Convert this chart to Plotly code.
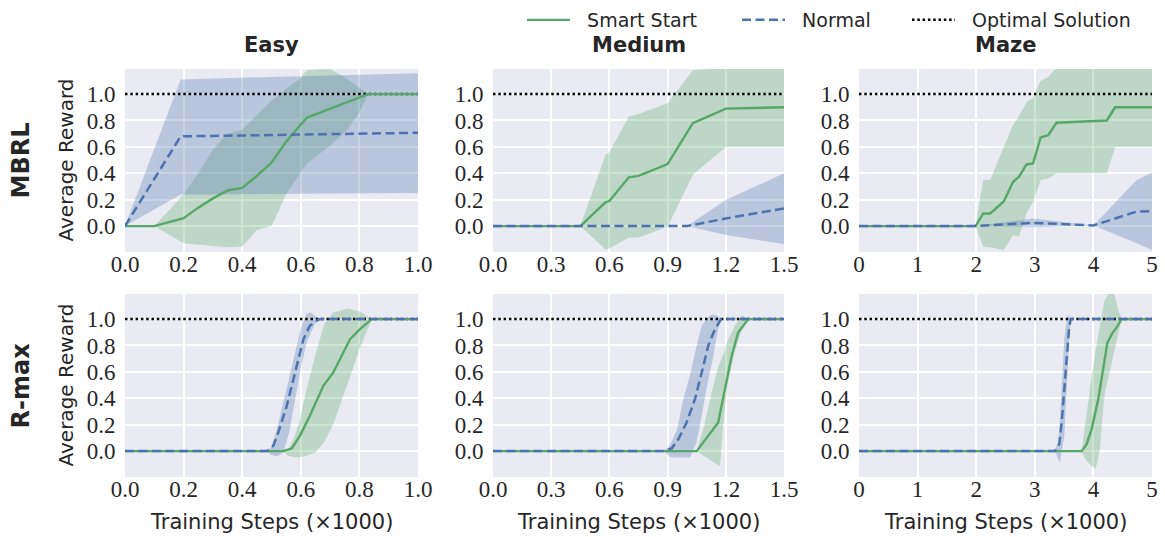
import plotly.graph_objects as go

# ---------------- data ----------------
# MBRL / Easy
mbrl_easy_ss_x = [0, 0.1, 0.2, 0.25, 0.3, 0.35, 0.4, 0.45, 0.5, 0.55, 0.6, 0.62, 0.7, 0.75, 0.8, 0.83, 1.0]
mbrl_easy_ss_mean = [0, 0, 0.06, 0.14, 0.21, 0.27, 0.29, 0.38, 0.48, 0.64, 0.77, 0.82, 0.89, 0.93, 0.97, 1.0, 1.0]
mbrl_easy_ss_hi = [0, 0, 0.24, 0.40, 0.58, 0.70, 0.73, 0.84, 0.95, 1.04, 1.12, 1.18, 1.19, 1.13, 1.05, 1.0, 1.0]
mbrl_easy_ss_lo = [0, 0, -0.13, -0.14, -0.15, -0.16, -0.155, -0.03, 0.0, 0.24, 0.41, 0.47, 0.61, 0.71, 0.86, 1.0, 1.0]
mbrl_easy_nm_x = [0, 0.19, 0.5, 1.0]
mbrl_easy_nm_mean = [0, 0.68, 0.69, 0.707]
mbrl_easy_nm_hi = [0, 1.11, 1.13, 1.157]
mbrl_easy_nm_lo = [0, 0.24, 0.245, 0.25]

# MBRL / Medium
mbrl_med_ss_x = [0, 0.45, 0.58, 0.6, 0.7, 0.75, 0.9, 1.03, 1.2, 1.5]
mbrl_med_ss_mean = [0, 0, 0.18, 0.19, 0.37, 0.38, 0.47, 0.78, 0.89, 0.90]
mbrl_med_ss_hi = [0, 0, 0.54, 0.56, 0.83, 0.85, 0.93, 1.18, 1.20, 1.20]
mbrl_med_ss_lo = [0, 0, -0.177, -0.17, -0.086, -0.086, -0.005, 0.39, 0.60, 0.60]
mbrl_med_nm_x = [0, 1.0, 1.2, 1.5]
mbrl_med_nm_mean = [0, 0.0, 0.058, 0.134]
mbrl_med_nm_hi = [0, 0.0, 0.197, 0.40]
mbrl_med_nm_lo = [0, 0.0, -0.068, -0.136]

# MBRL / Maze
mbrl_maze_ss_x = [0, 1.99, 2.12, 2.24, 2.47, 2.63, 2.73, 2.86, 2.97, 3.10, 3.23, 3.37, 4.23, 4.37, 5.0]
mbrl_maze_ss_mean = [0, 0, 0.096, 0.096, 0.187, 0.336, 0.374, 0.467, 0.475, 0.672, 0.689, 0.783, 0.80, 0.90, 0.90]
mbrl_maze_ss_hi = [0, 0, 0.35, 0.35, 0.60, 0.77, 0.83, 0.94, 0.97, 1.10, 1.13, 1.20, 1.20, 1.20, 1.20]
mbrl_maze_ss_lo = [0, 0, -0.157, -0.16, -0.18, -0.07, -0.08, 0.10, 0.18, 0.35, 0.36, 0.40, 0.40, 0.60, 0.60]
mbrl_maze_nm_x = [0, 2.0, 2.97, 4.0, 4.74, 5.0]
mbrl_maze_nm_mean = [0, 0, 0.025, 0.005, 0.11, 0.114]
mbrl_maze_nm_hi = [0, 0, 0.058, 0.005, 0.35, 0.407]
mbrl_maze_nm_lo = [0, 0, -0.008, 0.005, -0.13, -0.18]

# R-max / Easy
rmax_easy_ss_x = [0, 0.54, 0.569, 0.597, 0.631, 0.677, 0.711, 0.768, 0.802, 0.842, 1.0]
rmax_easy_ss_mean = [0, 0, 0.02, 0.116, 0.268, 0.495, 0.596, 0.848, 0.924, 1.0, 1.0]
rmax_easy_ss_band_x = [0.54, 0.555, 0.575, 0.595, 0.62, 0.65, 0.68, 0.71, 0.76, 0.80, 0.842]
rmax_easy_ss_hi = [0, 0.0, 0.09, 0.22, 0.47, 0.73, 0.96, 1.05, 1.08, 1.06, 1.0]
rmax_easy_ss_lo = [0, -0.035, -0.045, -0.048, -0.035, -0.01, 0.07, 0.20, 0.51, 0.77, 1.0]
rmax_easy_nm_x = [0, 0.484, 0.506, 0.523, 0.552, 0.569, 0.586, 0.609, 0.631, 0.659, 0.67, 1.0]
rmax_easy_nm_mean = [0, 0, 0.04, 0.14, 0.343, 0.495, 0.646, 0.848, 0.95, 0.995, 1.0, 1.0]
rmax_easy_nm_band_x = [0.48, 0.50, 0.52, 0.54, 0.56, 0.58, 0.60, 0.62, 0.635, 0.65, 0.67]
rmax_easy_nm_hi = [0, 0.03, 0.18, 0.36, 0.55, 0.74, 0.93, 1.04, 1.05, 1.02, 1.0]
rmax_easy_nm_lo = [0, -0.03, -0.04, -0.01, 0.14, 0.37, 0.63, 0.82, 0.90, 0.97, 1.0]

# R-max / Medium
rmax_med_ss_x = [0, 1.05, 1.161, 1.196, 1.23, 1.264, 1.316, 1.5]
rmax_med_ss_mean = [0, 0, 0.217, 0.47, 0.72, 0.90, 1.0, 1.0]
rmax_med_ss_band_x = [1.05, 1.09, 1.12, 1.153, 1.17, 1.187, 1.208, 1.247, 1.282, 1.316]
rmax_med_ss_hi = [0, 0.20, 0.40, 0.60, 0.67, 0.73, 0.83, 0.95, 1.03, 1.0]
rmax_med_ss_lo = [0, -0.04, -0.07, -0.10, -0.11, 0.20, 0.50, 0.76, 0.91, 1.0]
rmax_med_nm_x = [0, 0.878, 0.921, 0.955, 0.998, 1.041, 1.076, 1.11, 1.144, 1.175, 1.5]
rmax_med_nm_mean = [0, 0, 0.02, 0.09, 0.217, 0.394, 0.596, 0.80, 0.924, 1.0, 1.0]
rmax_med_nm_band_x = [0.88, 0.91, 0.93, 0.95, 0.98, 1.015, 1.05, 1.076, 1.10, 1.12, 1.136, 1.15, 1.161, 1.18]
rmax_med_nm_hi = [0, 0.04, 0.10, 0.17, 0.39, 0.57, 0.80, 0.95, 1.0, 1.03, 1.035, 1.03, 1.02, 1.0]
rmax_med_nm_lo = [0, -0.04, -0.048, -0.048, -0.048, -0.048, 0.07, 0.27, 0.47, 0.62, 0.72, 0.85, 0.924, 1.0]

# R-max / Maze
rmax_maze_ss_x = [0, 3.80, 3.885, 3.97, 4.084, 4.17, 4.238, 4.312, 4.397, 4.482, 5.0]
rmax_maze_ss_mean = [0, 0, 0.053, 0.167, 0.394, 0.62, 0.82, 0.886, 0.937, 1.0, 1.0]
rmax_maze_ss_band_x = [3.80, 3.86, 3.94, 4.03, 4.06, 4.11, 4.17, 4.20, 4.28, 4.34, 4.40, 4.42, 4.482]
rmax_maze_ss_hi = [0, 0.22, 0.47, 0.74, 0.82, 0.97, 1.10, 1.15, 1.20, 1.22, 1.12, 1.075, 1.0]
rmax_maze_ss_lo = [0, -0.06, -0.10, -0.136, -0.10, 0.015, 0.34, 0.45, 0.62, 0.73, 0.85, 0.88, 1.0]
rmax_maze_nm_x = [0, 3.345, 3.418, 3.459, 3.504, 3.544, 3.584, 3.612, 5.0]
rmax_maze_nm_mean = [0, 0, 0.053, 0.217, 0.47, 0.72, 0.924, 1.0, 1.0]
rmax_maze_nm_band_x = [3.345, 3.40, 3.43, 3.459, 3.504, 3.544, 3.572, 3.584, 3.612]
rmax_maze_nm_hi = [0, 0.08, 0.25, 0.47, 0.85, 1.0, 1.03, 1.02, 1.0]
rmax_maze_nm_lo = [0, -0.06, -0.086, 0.0, 0.116, 0.47, 0.70, 0.82, 1.0]

optimal_value = 1.0

col_titles = ["Easy", "Medium", "Maze"]
row_titles = ["MBRL", "R-max"]
x_max = [1.0, 1.5, 5.0]
x_tickvals = [[0, 0.2, 0.4, 0.6, 0.8, 1.0],
              [0, 0.3, 0.6, 0.9, 1.2, 1.5],
              [0, 1, 2, 3, 4, 5]]
x_ticktext = [["0.0", "0.2", "0.4", "0.6", "0.8", "1.0"],
              ["0.0", "0.3", "0.6", "0.9", "1.2", "1.5"],
              ["0", "1", "2", "3", "4", "5"]]
y_tickvals = [0, 0.2, 0.4, 0.6, 0.8, 1.0]
y_ticktext = ["0.0", "0.2", "0.4", "0.6", "0.8", "1.0"]
y_range = [-0.196, 1.19]
legend_labels = ["Smart Start", "Normal", "Optimal Solution"]
x_title = "Training Steps (×1000)"
y_title = "Average Reward"

panels = [
    # (smart start: x, mean, band_x, lo, hi), (normal: ...)
    ((mbrl_easy_ss_x, mbrl_easy_ss_mean, mbrl_easy_ss_x, mbrl_easy_ss_lo, mbrl_easy_ss_hi),
     (mbrl_easy_nm_x, mbrl_easy_nm_mean, mbrl_easy_nm_x, mbrl_easy_nm_lo, mbrl_easy_nm_hi)),
    ((mbrl_med_ss_x, mbrl_med_ss_mean, mbrl_med_ss_x, mbrl_med_ss_lo, mbrl_med_ss_hi),
     (mbrl_med_nm_x, mbrl_med_nm_mean, mbrl_med_nm_x, mbrl_med_nm_lo, mbrl_med_nm_hi)),
    ((mbrl_maze_ss_x, mbrl_maze_ss_mean, mbrl_maze_ss_x, mbrl_maze_ss_lo, mbrl_maze_ss_hi),
     (mbrl_maze_nm_x, mbrl_maze_nm_mean, mbrl_maze_nm_x, mbrl_maze_nm_lo, mbrl_maze_nm_hi)),
    ((rmax_easy_ss_x, rmax_easy_ss_mean, rmax_easy_ss_band_x, rmax_easy_ss_lo, rmax_easy_ss_hi),
     (rmax_easy_nm_x, rmax_easy_nm_mean, rmax_easy_nm_band_x, rmax_easy_nm_lo, rmax_easy_nm_hi)),
    ((rmax_med_ss_x, rmax_med_ss_mean, rmax_med_ss_band_x, rmax_med_ss_lo, rmax_med_ss_hi),
     (rmax_med_nm_x, rmax_med_nm_mean, rmax_med_nm_band_x, rmax_med_nm_lo, rmax_med_nm_hi)),
    ((rmax_maze_ss_x, rmax_maze_ss_mean, rmax_maze_ss_band_x, rmax_maze_ss_lo, rmax_maze_ss_hi),
     (rmax_maze_nm_x, rmax_maze_nm_mean, rmax_maze_nm_band_x, rmax_maze_nm_lo, rmax_maze_nm_hi)),
]

# ---------------- style ----------------
GREEN = "#55A868"
BLUE = "#4C72B0"
GREEN_FILL = "rgba(85,168,104,0.3)"
BLUE_FILL = "rgba(76,114,176,0.3)"
BG = "#EAEAF2"
TXT = "#262626"
SANS = "DejaVu Sans"
SERIF = "Liberation Serif, Times New Roman, serif"

W, H = 1165, 537
ML, MR, MT, MB = 125, 13, 69, 60
PW, PH = W - ML - MR, H - MT - MB

def px_x(p):
    return (p - ML) / PW

def px_y(p):
    return (H - MB - p) / PH

col_px = [(125, 418), (493, 784), (859, 1152)]
row_px = [(69, 252), (294, 477)]

fig = go.Figure()

for i, (ss, nm) in enumerate(panels):
    r, c = divmod(i, 3)
    n = i + 1
    xa = "x" if n == 1 else f"x{n}"
    ya = "y" if n == 1 else f"y{n}"
    first = (i == 0)
    # bands (drawn beneath all lines)
    for (sx, sm, bx, lo, hi), fillc in ((ss, GREEN_FILL), (nm, BLUE_FILL)):
        fig.add_trace(go.Scatter(
            x=list(bx) + list(bx)[::-1], y=list(hi) + list(lo)[::-1],
            fill="toself", fillcolor=fillc, line=dict(width=0), mode="lines",
            hoverinfo="skip", showlegend=False, xaxis=xa, yaxis=ya))
    # optimal solution
    fig.add_trace(go.Scatter(
        x=[0, x_max[c]], y=[optimal_value, optimal_value], mode="lines",
        line=dict(color="black", width=2.5, dash="2.5px,2.8px"),
        name="\u00a0\u00a0" + legend_labels[2], showlegend=first, legend="legend3",
        xaxis=xa, yaxis=ya))
    # smart start
    fig.add_trace(go.Scatter(
        x=ss[0], y=ss[1], mode="lines", line=dict(color=GREEN, width=2.4),
        name="\u00a0\u00a0" + legend_labels[0], showlegend=first, legend="legend",
        xaxis=xa, yaxis=ya))
    # normal
    fig.add_trace(go.Scatter(
        x=nm[0], y=nm[1], mode="lines", line=dict(color=BLUE, width=2.5, dash="9px,4.5px"),
        name="\u00a0\u00a0" + legend_labels[1], showlegend=first, legend="legend2",
        xaxis=xa, yaxis=ya))

    (x0, x1), (y0, y1) = col_px[c], row_px[r]
    xkey = "xaxis" if n == 1 else f"xaxis{n}"
    ykey = "yaxis" if n == 1 else f"yaxis{n}"
    fig.layout[xkey] = dict(
        domain=[px_x(x0), px_x(x1)], anchor=ya, range=[0, x_max[c]],
        tickmode="array", tickvals=x_tickvals[c], ticktext=x_ticktext[c],
        showgrid=True, gridcolor="white", gridwidth=1.8, zeroline=False,
        showline=False, ticks="",
        tickfont=dict(family=SERIF, size=23, color=TXT))
    fig.layout[ykey] = dict(
        domain=[px_y(y1), px_y(y0)], anchor=xa, range=y_range,
        tickmode="array", tickvals=y_tickvals, ticktext=y_ticktext,
        showgrid=True, gridcolor="white", gridwidth=1.8, zeroline=False,
        showline=False, ticks="outside", ticklen=4, tickcolor="rgba(0,0,0,0)",
        tickfont=dict(family=SERIF, size=23, color=TXT))

try:
    fig.update_xaxes(ticklabelstandoff=-4)
except Exception:
    pass

annotations = []
for c, t in enumerate(col_titles):
    xc = (col_px[c][0] + col_px[c][1]) / 2
    annotations.append(dict(text=f"<b>{t}</b>", x=px_x(xc), y=px_y(45), xref="paper", yref="paper",
                            showarrow=False, xanchor="center", yanchor="middle",
                            font=dict(family=SANS, size=21, color=TXT)))
    annotations.append(dict(text=x_title, x=px_x(xc), y=px_y(522), xref="paper", yref="paper",
                            showarrow=False, xanchor="center", yanchor="middle",
                            font=dict(family=SANS, size=21, color=TXT)))
for r, t in enumerate(row_titles):
    yc = (row_px[r][0] + row_px[r][1]) / 2
    annotations.append(dict(text=f"<b>{t}</b>", x=px_x(20), y=px_y(yc), xref="paper", yref="paper",
                            showarrow=False, xanchor="center", yanchor="middle", textangle=-90,
                            font=dict(family=SANS, size=24, color=TXT)))
    annotations.append(dict(text=y_title, x=px_x(65), y=px_y(yc), xref="paper", yref="paper",
                            showarrow=False, xanchor="center", yanchor="middle", textangle=-90,
                            font=dict(family=SANS, size=20, color=TXT)))

leg_common = dict(orientation="h", xanchor="left", yanchor="middle", y=px_y(20),
                  font=dict(family=SANS, size=19, color=TXT), itemwidth=43,
                  bgcolor="rgba(0,0,0,0)", borderwidth=0)

fig.update_layout(
    width=W, height=H,
    margin=dict(l=ML, r=MR, t=MT, b=MB, pad=0, autoexpand=False),
    paper_bgcolor="white", plot_bgcolor=BG,
    annotations=annotations,
    legend=dict(x=px_x(522), **leg_common),
    legend2=dict(x=px_x(737), **leg_common),
    legend3=dict(x=px_x(907), **leg_common),
)
fig.write_html("out.html", config={"displayModeBar": False},
               post_script="document.body.style.margin='0';document.body.style.overflow='hidden';")
